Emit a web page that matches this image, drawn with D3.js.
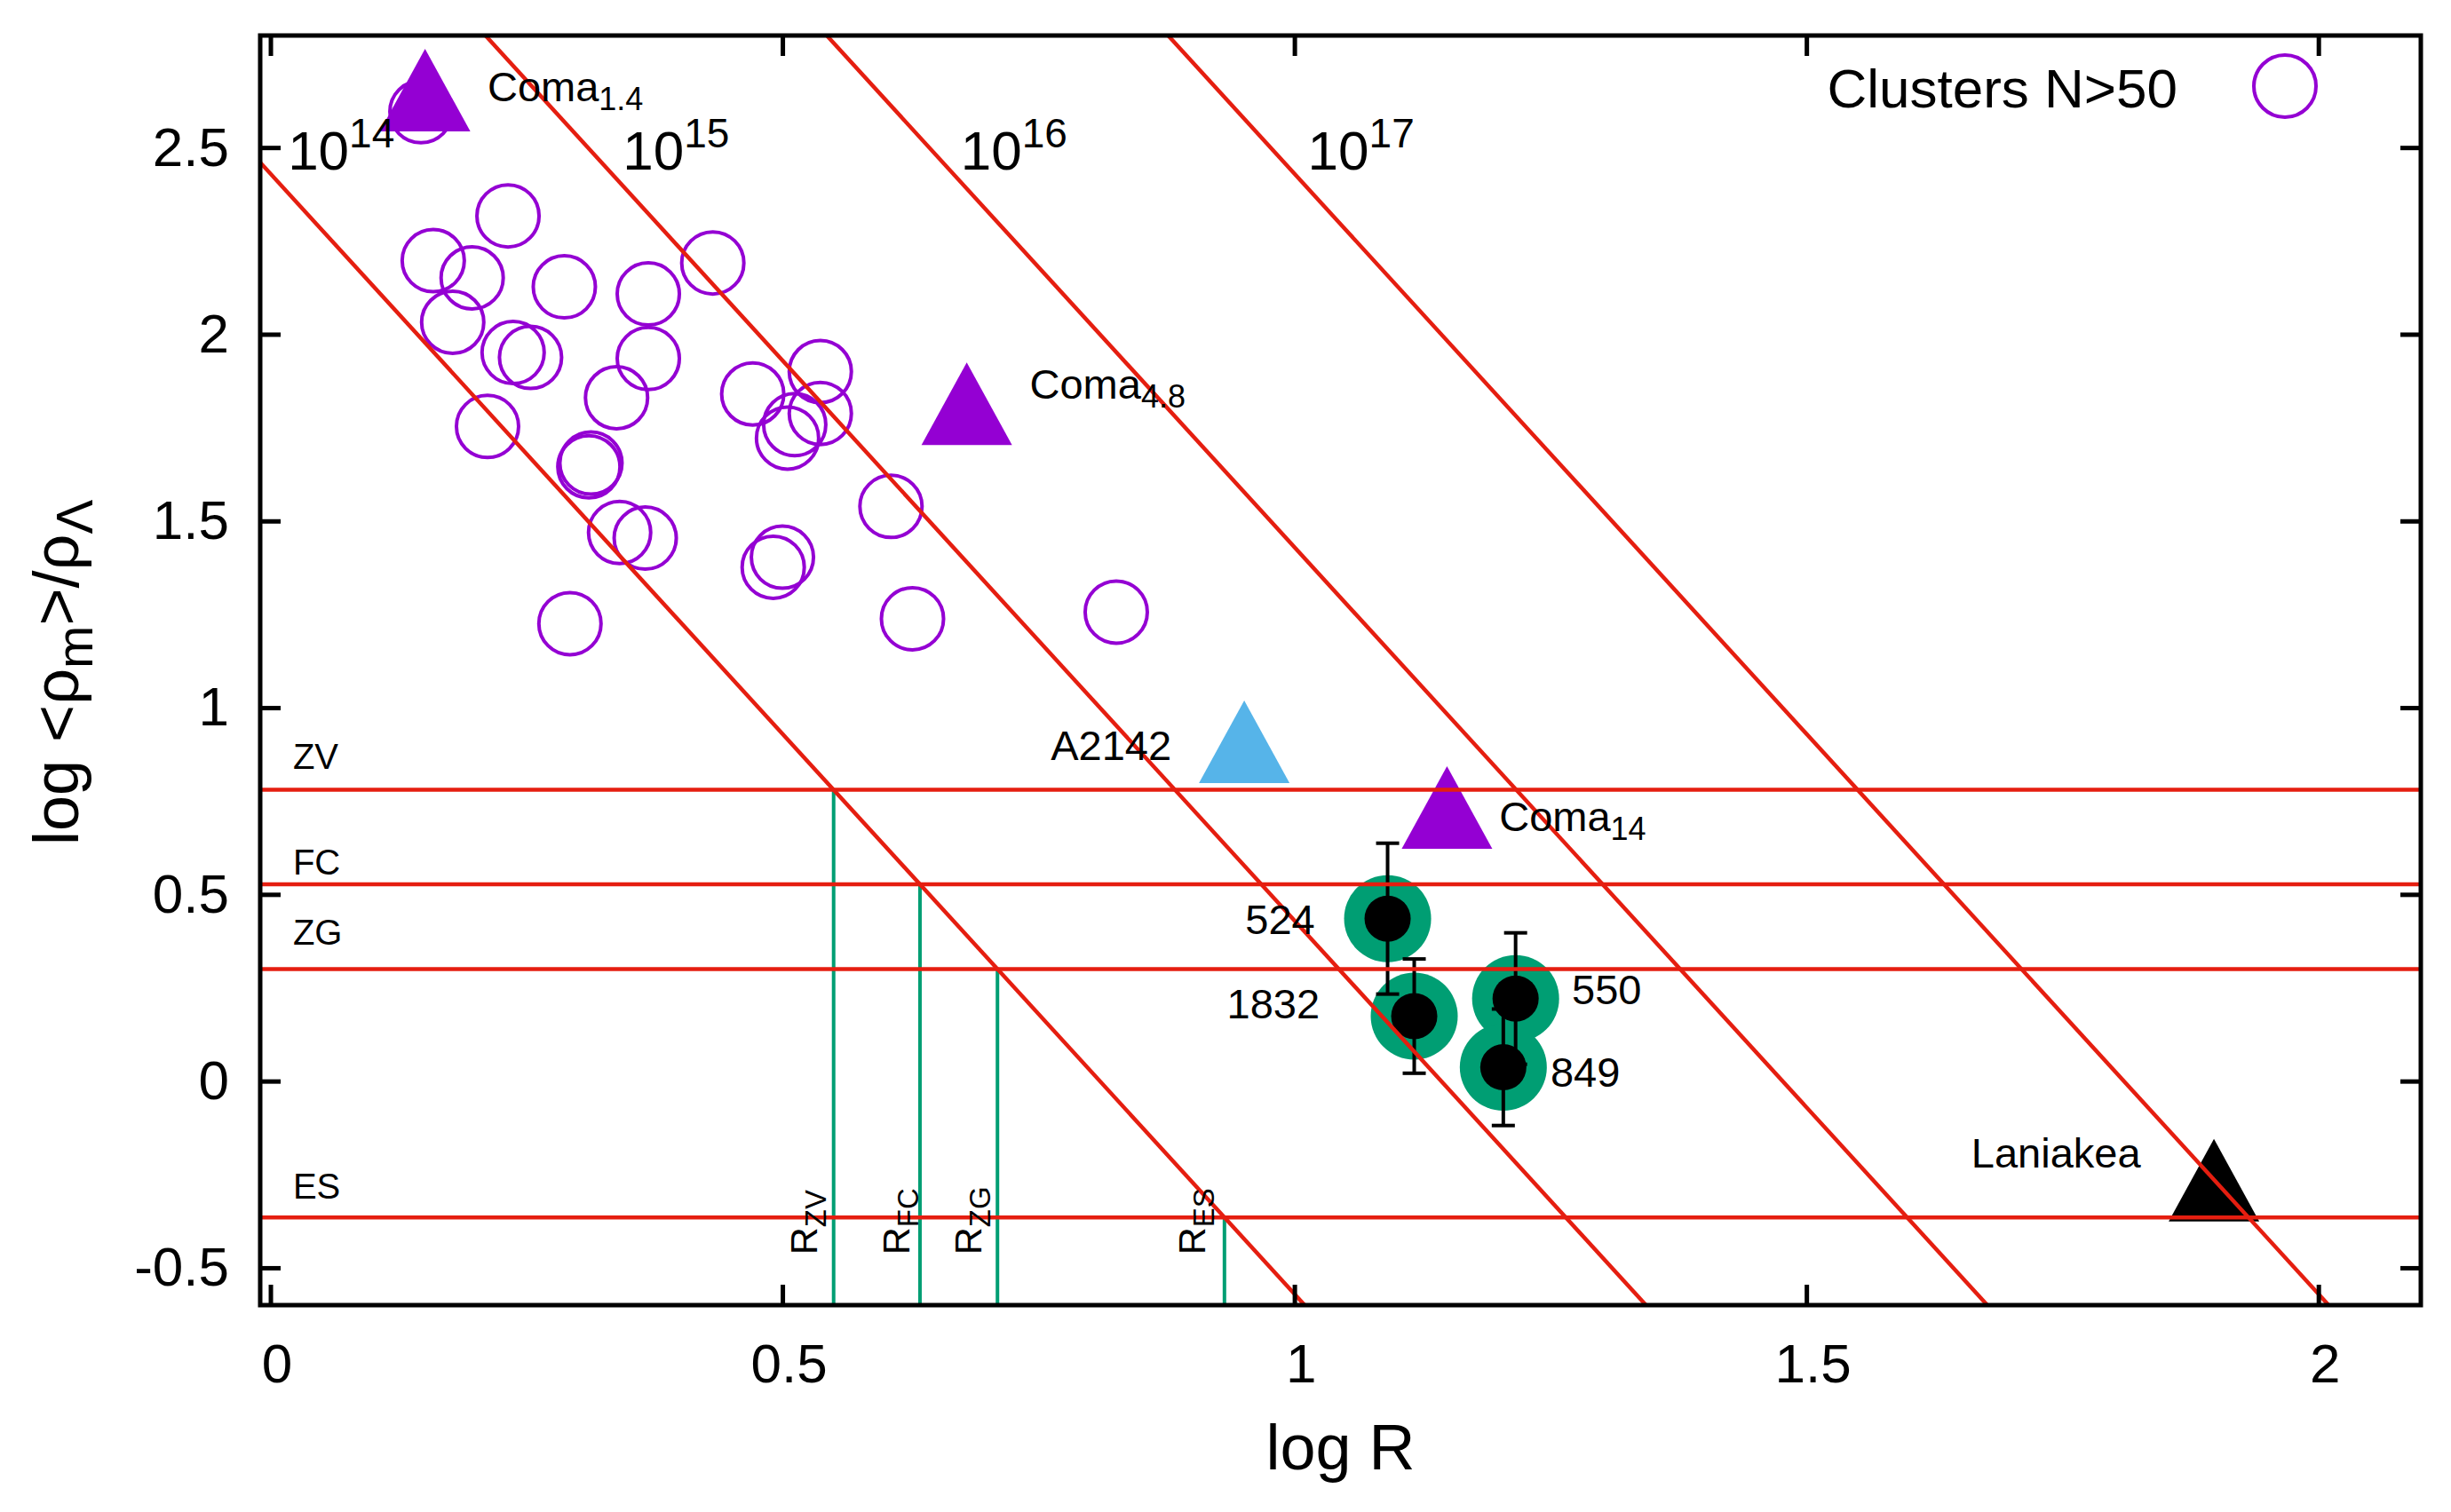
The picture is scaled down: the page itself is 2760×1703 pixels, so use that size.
<!DOCTYPE html>
<html>
<head>
<meta charset="utf-8">
<script src="https://cdn.jsdelivr.net/npm/d3@7"></script>
<style>
  body { margin: 0; background: #ffffff; }
  text { font-family: "Liberation Sans", Arial, Helvetica, sans-serif; fill: #000; }
</style>
</head>
<body>
<svg id="chart" width="2760" height="1703"></svg>
<script>
"use strict";

//---------------------------------------------------------------
/* DATA */

// clusters with N>50 (open circles)
const clusterLogR = [0.147, 0.159, 0.197, 0.178, 0.232, 0.287, 0.369, 0.432, 0.212, 0.237, 0.254, 0.338, 0.369, 0.311, 0.313, 0.341, 0.366, 0.2925, 0.471, 0.537, 0.537, 0.512, 0.505, 0.606, 0.500, 0.491, 0.627, 0.826]
const clusterLogRho = [2.596, 2.197, 2.151, 2.032, 2.317, 2.127, 2.108, 2.191, 1.753, 1.951, 1.938, 1.830, 1.935, 1.645, 1.655, 1.469, 1.454, 1.225, 1.840, 1.900, 1.788, 1.758, 1.722, 1.539, 1.403, 1.376, 1.238, 1.256]

// single objects (triangles)
const objectName = ["Coma", "Coma", "A2142", "Coma", "Laniakea"]
const objectSub = ["1.4", "4.8", "", "14", ""]
const objectKind = ["coma", "coma", "a2142", "coma", "laniakea"]
const objectLogR = [0.151, 0.680, 0.951, 1.149, 1.898]
const objectLogRho = [2.617, 1.777, 0.872, 0.696, -0.302]
const objectLabelX = [0.212, 0.7415, 0.762, 1.200, 1.661]
const objectLabelY = [2.625, 1.827, 0.861, 0.6685, -0.231]

// superclusters with error bars
const scName = ["524", "1832", "550", "849"]
const scLogR = [1.091, 1.117, 1.216, 1.204]
const scLogRho = [0.435, 0.174, 0.221, 0.037]
const scErr = [0.202, 0.153, 0.176, 0.156]
const scLabelX = [0.952, 0.934, 1.271, 1.250]
const scLabelY = [0.394, 0.167, 0.205, -0.014]

// constant mass lines: log rho = intercept - 3 log R
const massExp = ["14", "15", "16", "17"]
const massIntercept = [2.43, 3.43, 4.43, 5.43]
const massLabelX = [0.017, 0.344, 0.674, 1.013]
const massLabelY = 2.441

// density levels
const levelName = ["ZV", "FC", "ZG", "ES"]
const levelLogRho = [0.78, 0.527, 0.30, -0.365]
const levelLabelY = [0.835, 0.553, 0.366, -0.314]
const levelLabelX = 0.022
const radiusLabelX = [0.534, 0.624, 0.694, 0.9125]
const radiusLabelY = -0.465

// axes
const xTicks = [0, 0.5, 1, 1.5, 2]
const yTicks = [-0.5, 0, 0.5, 1, 1.5, 2, 2.5]
const xDomain = [-0.01, 2.1]
const yDomain = [-0.6, 2.8]

//---------------------------------------------------------------
/* LAYOUT */
const svgWidth = 2760, svgHeight = 1703
const margin = { top: 40, right: 34, bottom: 233, left: 293 }
const width = svgWidth - margin.left - margin.right
const height = svgHeight - margin.top - margin.bottom

const red = "#e51e10", green = "#009e73", violet = "#9400d3", sky = "#56b4e9"
const kindColor = { coma: violet, a2142: sky, laniakea: "#000000" }

const svg = d3.select("#chart")
svg.append("rect").attr("width", svgWidth).attr("height", svgHeight).attr("fill", "#fff")

const g = svg.append("g").attr("transform", "translate(" + margin.left + "," + margin.top + ")")

const x = d3.scaleLinear().domain(xDomain).range([0, width])
const y = d3.scaleLinear().domain(yDomain).range([height, 0])

g.append("clipPath").attr("id", "plotClip")
    .append("rect").attr("width", width).attr("height", height)

const plot = g.append("g").attr("clip-path", "url(#plotClip)")

// triangle marker, centred on its centroid
function trianglePath(cx, cy) {
    return "M" + cx + "," + (cy - 62) + "L" + (cx + 51) + "," + (cy + 31) + "L" + (cx - 51) + "," + (cy + 31) + "Z"
}

// label with an optional sub/superscript
function addLabel(parent, px, py, main, extra, size, extraSize, shift) {
    let t = parent.append("text")
        .attr("x", px)
        .attr("y", py)
        .style("font-size", size + "px")
    t.append("tspan").text(main)
    if (extra !== "") {
        t.append("tspan")
            .attr("dy", shift)
            .style("font-size", extraSize + "px")
            .text(extra)
    }
    return t
}

//---------------------------------------------------------------
/* MARKS */

// open circles for clusters
plot.selectAll(".cluster")
    .data(d3.range(clusterLogR.length))
    .enter().append("circle")
    .attr("class", "cluster")
    .attr("cx", function (i) { return x(clusterLogR[i]) })
    .attr("cy", function (i) { return y(clusterLogRho[i]) })
    .attr("r", 35)
    .attr("fill", "none")
    .attr("stroke", violet)
    .attr("stroke-width", 4)

// triangles
plot.selectAll(".object")
    .data(d3.range(objectLogR.length))
    .enter().append("path")
    .attr("class", "object")
    .attr("d", function (i) { return trianglePath(x(objectLogR[i]), y(objectLogRho[i])) })
    .attr("fill", function (i) { return kindColor[objectKind[i]] })

// superclusters: green disc, black dot, error bar
const scIdx = d3.range(scLogR.length)
plot.selectAll(".scHalo")
    .data(scIdx)
    .enter().append("circle")
    .attr("cx", function (i) { return x(scLogR[i]) })
    .attr("cy", function (i) { return y(scLogRho[i]) })
    .attr("r", 49)
    .attr("fill", green)

scIdx.forEach(function (i) {
    let cx = x(scLogR[i])
    let top = y(scLogRho[i] + scErr[i])
    let bottom = y(scLogRho[i] - scErr[i])
    plot.append("circle")
        .attr("cx", cx)
        .attr("cy", y(scLogRho[i]))
        .attr("r", 26)
        .attr("fill", "#000")
    let bar = plot.append("g")
        .attr("stroke", "#000")
        .attr("stroke-width", 4)
    bar.append("line").attr("x1", cx).attr("x2", cx).attr("y1", top).attr("y2", bottom)
    bar.append("line").attr("x1", cx - 13).attr("x2", cx + 13).attr("y1", top).attr("y2", top)
    bar.append("line").attr("x1", cx - 13).attr("x2", cx + 13).attr("y1", bottom).attr("y2", bottom)
})

//---------------------------------------------------------------
/* TEXT LABELS (under the red lines) */
const labels = g.append("g")

objectLogR.forEach(function (d, i) {
    addLabel(labels, x(objectLabelX[i]), y(objectLabelY[i]), objectName[i], objectSub[i], 47, 36, 10)
})

scLogR.forEach(function (d, i) {
    addLabel(labels, x(scLabelX[i]), y(scLabelY[i]), scName[i], "", 47, 0, 0)
})

massExp.forEach(function (d, i) {
    addLabel(labels, x(massLabelX[i]), y(massLabelY), "10", d, 62, 46, -25)
})

levelName.forEach(function (d, i) {
    addLabel(labels, x(levelLabelX), y(levelLabelY[i]), d, "", 40, 0, 0)
})

// rotated R labels beside the green lines
levelName.forEach(function (d, i) {
    let t = labels.append("text")
        .attr("transform", "translate(" + x(radiusLabelX[i]) + "," + y(radiusLabelY) + ") rotate(-90)")
        .style("font-size", "43px")
    t.append("tspan").text("R")
    t.append("tspan").attr("dy", 10).style("font-size", "33px").text(d)
})

//---------------------------------------------------------------
/* LINES */

// green verticals: where the 10^14 line meets each level
levelLogRho.forEach(function (lev) {
    let r = (massIntercept[0] - lev) / 3
    plot.append("line")
        .attr("x1", x(r)).attr("x2", x(r))
        .attr("y1", y(yDomain[0])).attr("y2", y(lev))
        .attr("stroke", green)
        .attr("stroke-width", 4)
})

// horizontal density levels
plot.selectAll(".level")
    .data(levelLogRho)
    .enter().append("line")
    .attr("x1", x(xDomain[0])).attr("x2", x(xDomain[1]))
    .attr("y1", function (d) { return y(d) })
    .attr("y2", function (d) { return y(d) })
    .attr("stroke", red)
    .attr("stroke-width", 4.5)

// constant mass lines
plot.selectAll(".mass")
    .data(massIntercept)
    .enter().append("path")
    .attr("fill", "none")
    .attr("stroke", red)
    .attr("stroke-width", 4.5)
    .attr("d", function (c) {
        return d3.line()
            .x(function (r) { return x(r) })
            .y(function (r) { return y(c - 3 * r) })(xDomain)
    })

//---------------------------------------------------------------
/* AXES */
function styleAxis(sel) {
    sel.select(".domain").remove()
    sel.selectAll(".tick line").attr("stroke", "#000").attr("stroke-width", 5)
    sel.selectAll(".tick text").style("font-size", "62px").attr("fill", "#000")
        .style("font-family", "'Liberation Sans', Arial, sans-serif")
}

g.append("g")
    .attr("transform", "translate(0," + height + ")")
    .call(d3.axisBottom(x).tickValues(xTicks).tickSize(-23).tickPadding(43).tickFormat(String))
    .call(styleAxis)
    .selectAll(".tick text").attr("dx", 7)

g.append("g")
    .call(d3.axisTop(x).tickValues(xTicks).tickSize(-23).tickFormat(""))
    .call(styleAxis)

g.append("g")
    .call(d3.axisLeft(y).tickValues(yTicks).tickSize(-23).tickPadding(35).tickFormat(String))
    .call(styleAxis)

g.append("g")
    .attr("transform", "translate(" + width + ",0)")
    .call(d3.axisRight(y).tickValues(yTicks).tickSize(-23).tickFormat(""))
    .call(styleAxis)

// frame
g.append("rect")
    .attr("width", width)
    .attr("height", height)
    .attr("fill", "none")
    .attr("stroke", "#000")
    .attr("stroke-width", 5)

// axis titles
g.append("text")
    .attr("x", width / 2)
    .attr("y", 1655 - margin.top)
    .attr("text-anchor", "middle")
    .style("font-size", "72px")
    .text("log R")

let yTitle = svg.append("text")
    .attr("transform", "translate(88,952) rotate(-90)")
    .style("font-size", "72px")
yTitle.append("tspan").text("log <ρ")
yTitle.append("tspan").attr("dy", 16).style("font-size", "58px").text("m")
yTitle.append("tspan").attr("dy", -16).text(">/ρ")
yTitle.append("tspan").attr("dy", 16).style("font-size", "58px").text("Λ")

// key
const key = g.append("g").attr("transform", "translate(" + (width - 153) + ",57)")
key.append("text")
    .attr("x", -121)
    .attr("y", 24)
    .attr("text-anchor", "end")
    .style("font-size", "62px")
    .text("Clusters N>50")
key.append("circle")
    .attr("r", 35)
    .attr("fill", "none")
    .attr("stroke", violet)
    .attr("stroke-width", 4)
</script>
</body>
</html>
